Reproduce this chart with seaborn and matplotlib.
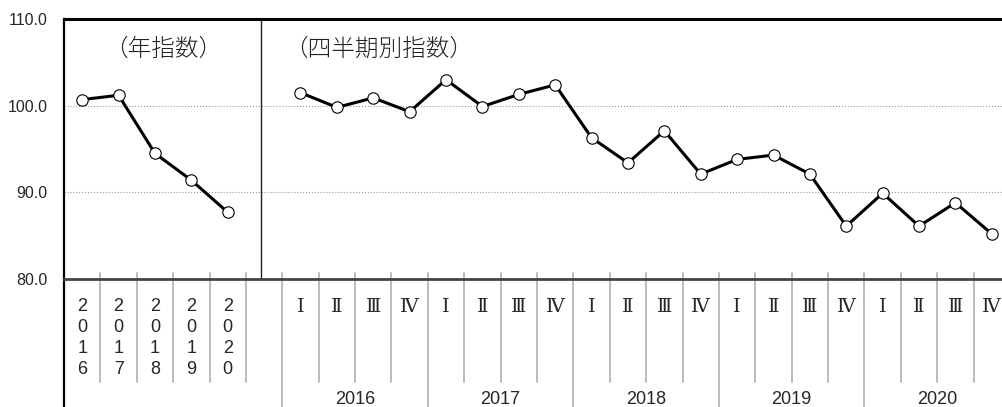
import pandas as pd
import seaborn as sns
import matplotlib.pyplot as plt

# annual index (年指数)
annual_years = ["2016", "2017", "2018", "2019", "2020"]
annual_index = [100.7, 101.2, 94.5, 91.4, 87.7]

# quarterly index (四半期別指数)
quarter_years = ["2016", "2017", "2018", "2019", "2020"]
quarter_names = ["Ⅰ", "Ⅱ", "Ⅲ", "Ⅳ"]
quarterly_index = [101.5, 99.8, 100.9, 99.3,
                   103.0, 99.9, 101.3, 102.4,
                   96.3, 93.4, 97.1, 92.1,
                   93.8, 94.3, 92.1, 86.1,
                   89.9, 86.1, 88.8, 85.2]

y_ticks = [80, 90, 100, 110]

sns.set_style("white")
plt.rcParams["font.family"] = ["Liberation Sans", "Noto Sans CJK JP", "DejaVu Sans"]

# one slot per category: 5 years, one empty gap, 20 quarters
slot_labels = ["\n".join(y) for y in annual_years] + [""] + quarter_names * len(quarter_years)
n_slots = len(slot_labels)
gap = len(annual_years)
annual_pos = list(range(len(annual_years)))
quarter_pos = list(range(gap + 1, n_slots))

df = pd.DataFrame({
    "pos": annual_pos + quarter_pos,
    "value": annual_index + quarterly_index,
    "kind": ["annual"] * len(annual_pos) + ["quarterly"] * len(quarter_pos),
})

W, H = 1003, 407
fig = plt.figure(figsize=(W / 100, H / 100), dpi=100)
ax = fig.add_axes([64 / W, 128 / H, 946 / W, 260 / H])

sns.lineplot(data=df, x="pos", y="value", units="kind", estimator=None,
             color="black", lw=2.2, marker="o", ms=8.2, mfc="white",
             mec="black", mew=0.8, ax=ax, legend=False, zorder=5, clip_on=False)

ax.set_xlim(-0.5, n_slots - 0.5)
ax.set_ylim(80, 110)
ax.set_xlabel("")
ax.set_ylabel("")

ax.set_yticks(y_ticks, [f"{v:.1f}" for v in y_ticks], fontsize=11.5)
ax.tick_params(axis="y", direction="in", length=4, color="#555555", pad=12)
ax.yaxis.grid(True, ls=":", color="#999999", lw=0.8)

ax.set_xticks(range(n_slots), slot_labels)
ax.tick_params(axis="x", length=0, pad=14)
for lab in ax.get_xticklabels():
    if lab.get_text() in quarter_names:
        lab.set_fontfamily(["DejaVu Serif", "Noto Sans CJK JP"])
        lab.set_fontsize(14)
    else:
        lab.set_fontsize(13)
        lab.set_linespacing(1.3)

for s in ["top", "left"]:
    ax.spines[s].set_color("black")
ax.spines["top"].set_linewidth(2.2)
ax.spines["left"].set_linewidth(1.6)
ax.spines["bottom"].set_color("#444444")
ax.spines["bottom"].set_linewidth(2.0)
ax.spines["right"].set_visible(False)

# separator between annual and quarterly panels
ax.axvline(gap - 0.08, color="#222222", lw=1.0)

# category boundary lines below the axis
trans = ax.get_xaxis_transform()
group_edges = [gap + 0.5 + 4 * i for i in range(len(quarter_years))]
for k in range(n_slots - 1):
    b = k + 0.5
    low = -128 / 260 if b in group_edges else -103 / 260
    ax.plot([b, b], [6 / 260, low], transform=trans, color="#b5b5b5",
            lw=1.3, clip_on=False, zorder=1)
ax.plot([-0.5, -0.5], [0, -128 / 260], transform=trans, color="black",
        lw=1.6, clip_on=False)

for i, yr in enumerate(quarter_years):
    ax.text(gap + 1 + 4 * i + 1.5, -112 / 260, yr, transform=trans,
            ha="center", va="top", fontsize=13)

ax.text(2.23, 106.5, "（年指数）", ha="center", va="center", fontsize=17,
        fontfamily="Noto Sans CJK JP", fontweight="light", color="#222222")
ax.text(8.16, 106.5, "（四半期別指数）", ha="center", va="center", fontsize=17,
        fontfamily="Noto Sans CJK JP", fontweight="light", color="#222222")

fig.savefig("out.png", dpi=100)
